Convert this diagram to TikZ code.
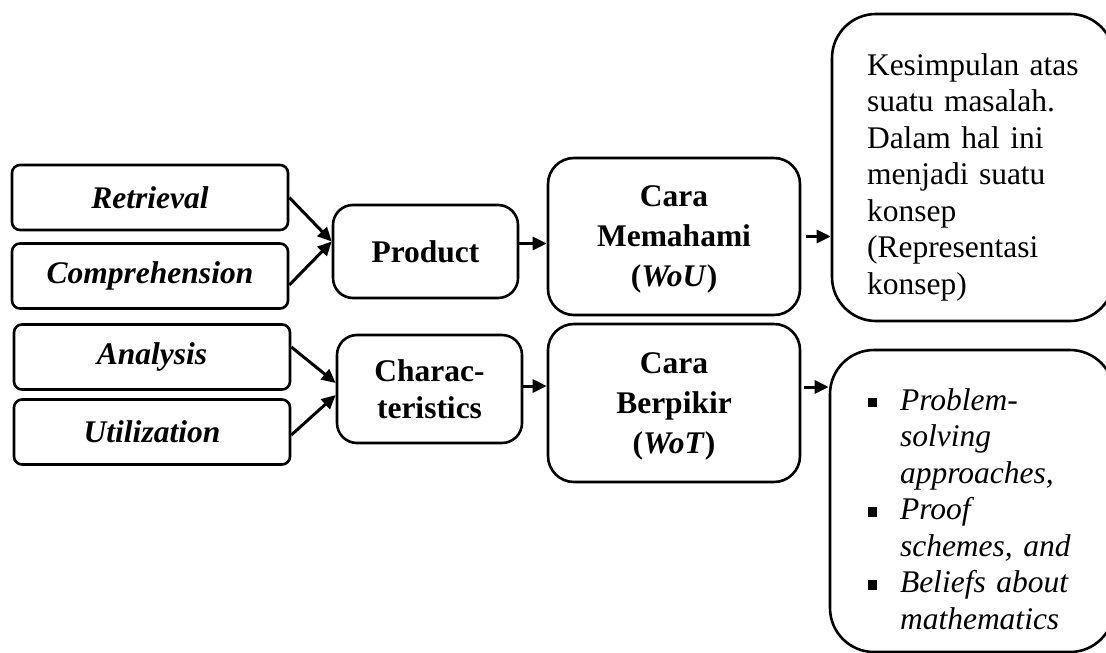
\documentclass[tikz,border=0pt]{standalone}
\usepackage{fontspec}
\setmainfont{Liberation Serif}
\usetikzlibrary{arrows.meta}
\newcommand{\sqitem}{\makebox[16pt][l]{\rule[1.5pt]{4.6pt}{4.6pt}}}
\newcommand{\sqskip}{\hspace*{16pt}}

\begin{document}
\begin{tikzpicture}[x=0.5pt,y=-0.5pt,line width=1.3pt]
    % `level' is used for the four boxes on the left.
    % `middle' is used for Product and Characteristics.
    % `way' is used for the two Cara boxes.
    % `result' is used for the two big boxes on the right.
    \tikzstyle{level} = [draw,rounded corners=4pt,minimum width=138pt,minimum height=32.5pt,
                         font=\fontsize{15.75pt}{18.5pt}\selectfont\bfseries\itshape]
    \tikzstyle{middle} = [draw,rounded corners=10pt,minimum width=92.5pt,align=center,
                          font=\fontsize{15.75pt}{18.5pt}\selectfont\bfseries]
    \tikzstyle{way} = [draw,rounded corners=13pt,minimum width=126pt,minimum height=78.5pt,align=center,
                       font=\fontsize{15.75pt}{20pt}\selectfont\bfseries]
    \tikzstyle{result} = [draw,rounded corners=22pt,align=left,
                          font=\fontsize{15.75pt}{18.25pt}\selectfont]
    \tikzstyle{link} = [-{Triangle[length=7pt,width=6.5pt]},line width=1.5pt]
    %
    \useasboundingbox (0,0) rectangle (1106,652);
    % Boxes.
    \node[level] (ret) at (150,197.5) {Retrieval};
    \node[level] (comp) at (150,276) {Comprehension};
    \node[level] (ana) at (152,357) {Analysis};
    \node[level] (util) at (152,432) {Utilization};
    \node[middle,minimum height=46.5pt] (prod) at (425.5,251.5) {Product};
    \node[middle,minimum height=54pt] (char) at (429.5,389) {Charac-\\teristics};
    \node[way,text depth=-4pt] (wou) at (674,236.5) {Cara\\Memahami\\(\textit{WoU})};
    \node[way,minimum height=79pt,text depth=-4pt] (wot) at (674,403) {Cara\\Berpikir\\(\textit{WoT})};
    \node[result,minimum width=141pt,minimum height=153.5pt,text width=106pt,text height=20.5pt] (konsep) at (973,167.5)
      {Kesimpulan atas\\suatu masalah.\\Dalam hal ini\\menjadi suatu\\konsep\\(Representasi\\konsep)};
    \node[result,minimum width=142pt,minimum height=151pt,text width=104pt,text height=18.8pt] (ciri) at (972,501)
      {\sqitem\textit{Problem-}\\\sqskip\textit{solving}\\\sqskip\textit{approaches,}\\
       \sqitem\textit{Proof}\\\sqskip\textit{schemes, and}\\
       \sqitem\textit{Beliefs about}\\\sqskip\textit{mathematics}};
    % Draw arrows.
    \draw[link] (ret.east) -- ([yshift=5pt]prod.west);
    \draw[link] ([yshift=-4.5pt]comp.east) -- ([yshift=5pt]prod.west);
    \draw[link] ([yshift=5pt]ana.east) -- ([yshift=3pt]char.west);
    \draw[link] ([yshift=-1.5pt]util.east) -- ([yshift=-3pt]char.west);
    \coordinate (pout) at ([yshift=4pt]prod.east);
    \coordinate (cout) at ([yshift=1.5pt]char.east);
    \coordinate (tout) at ([yshift=8pt]wot.east);
    \draw[link] (pout) -- (pout -| wou.west);
    \draw[link] (cout) -- (cout -| wot.west);
    \draw[link,shorten <=2.5pt] (wou.east) -- (wou.east -| konsep.west);
    \draw[link,shorten <=1.5pt] (tout) -- (tout -| ciri.west);
\end{tikzpicture}
\end{document}
